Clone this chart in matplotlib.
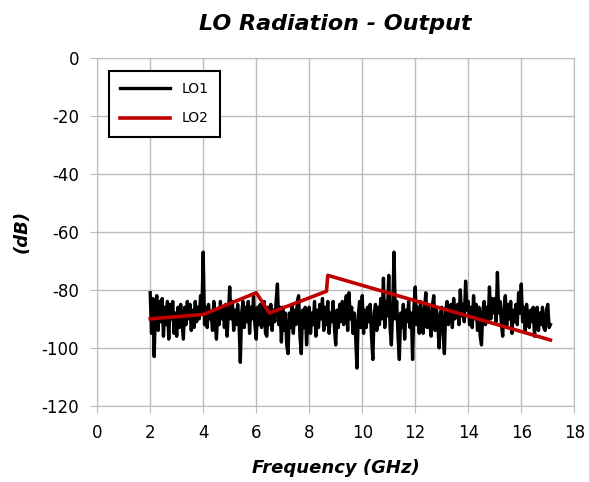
import numpy as np
import matplotlib.pyplot as plt

# LO1: noisy trace, one reading every 0.05 GHz from 2.0 to 17.1 GHz
lo1_db = [-81, -95, -83, -103, -86, -82, -94, -84, -91, -83, -96, -86, -92, -84, -97, -85, -90, -84, -95, -88,
          -96, -86, -93, -85, -91, -97, -86, -92, -84, -90, -85, -94, -87, -93, -84, -91, -86, -90, -82, -88,
          -67, -92, -86, -93, -85, -90, -88, -94, -84, -91, -97, -87, -92, -84, -90, -86, -93, -85, -96, -88,
          -79, -90, -84, -94, -87, -92, -85, -91, -105, -88, -84, -93, -86, -91, -84, -95, -86, -90, -82, -92,
          -97, -86, -92, -85, -93, -88, -84, -95, -96, -86, -92, -85, -94, -87, -91, -84, -78, -92, -86, -98,
          -86, -94, -88, -99, -102, -88, -93, -85, -95, -87, -92, -84, -82, -96, -102, -87, -93, -86, -99, -90,
          -86, -95, -88, -92, -84, -96, -87, -93, -85, -90, -83, -94, -86, -92, -84, -95, -88, -91, -84, -93,
          -99, -87, -93, -85, -91, -84, -92, -86, -82, -94, -81, -90, -86, -95, -88, -96, -107, -89, -84, -93,
          -82, -95, -87, -93, -86, -91, -85, -96, -104, -88, -85, -94, -86, -92, -83, -90, -76, -93, -84, -89,
          -75, -93, -99, -86, -67, -90, -84, -96, -104, -88, -93, -85, -97, -87, -91, -84, -93, -88, -104, -86,
          -79, -92, -86, -95, -84, -91, -95, -86, -81, -93, -86, -92, -96, -85, -82, -94, -87, -91, -100, -88,
          -86, -95, -102, -87, -84, -92, -88, -85, -93, -83, -90, -86, -85, -92, -80, -89, -85, -91, -77, -87,
          -84, -92, -86, -93, -82, -90, -85, -94, -86, -96, -99, -87, -84, -92, -86, -91, -79, -90, -83, -88,
          -83, -91, -74, -88, -84, -92, -96, -86, -82, -93, -85, -90, -84, -95, -87, -91, -85, -92, -81, -88,
          -78, -91, -86, -94, -85, -90, -93, -87, -91, -86, -96, -89, -86, -94, -88, -92, -86, -93, -94, -87,
          -85, -93, -92]
lo1_freq = np.round(np.arange(len(lo1_db)) * 0.05 + 2.0, 2)

# LO2: piecewise trace
lo2_freq = [2.0, 4.0, 6.0, 6.5, 8.65, 8.7, 17.1]
lo2_db = [-90, -88.5, -81, -88, -80.5, -75, -97.3]

plt.rcParams['font.family'] = ['DejaVu Sans']
plt.rcParams['axes.unicode_minus'] = False

fig = plt.figure(figsize=(5.89, 4.82), dpi=100)
ax = fig.add_axes([0.165, 0.158, 0.81, 0.722])

ax.plot(lo1_freq, lo1_db, color='black', lw=2.4, label='LO1', zorder=3)
ax.plot(lo2_freq, lo2_db, color='#c00000', lw=2.6, label='LO2', zorder=4)

ax.set_xlim(0, 18)
ax.set_ylim(-120, 0)
ax.set_xticks(range(0, 19, 2))
ax.set_yticks(range(-120, 1, 20))
ax.grid(True, color='#bcbcbc', lw=1)
for s in ax.spines.values():
    s.set_color('#bcbcbc')
ax.tick_params(colors='#bcbcbc', labelcolor='black', labelsize=12, length=5)
ax.tick_params(axis='x', pad=8)
ax.tick_params(axis='y', pad=8)

ax.set_title('LO Radiation - Output', fontsize=16, fontweight='bold',
             style='italic', pad=20)
ax.set_xlabel('Frequency (GHz)', fontsize=13, fontweight='bold', style='italic',
              labelpad=12)
ax.set_ylabel('(dB)', fontsize=13, fontweight='bold', style='italic',
              labelpad=8)

leg = ax.legend(loc='upper left', bbox_to_anchor=(0.011, 0.982), fontsize=10,
                fancybox=False, framealpha=1, edgecolor='black',
                handlelength=3.6, borderpad=0.8, labelspacing=1.1)
leg.get_frame().set_linewidth(1.5)

fig.savefig('out.png', dpi=100)
